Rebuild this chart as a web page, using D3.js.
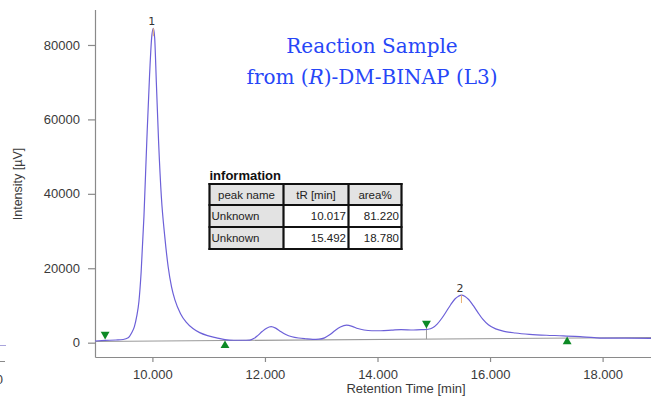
<!DOCTYPE html>
<html>
<head>
<meta charset="utf-8">
<script src="https://cdn.jsdelivr.net/npm/d3@7"></script>
<style>
  html, body { margin: 0; padding: 0; background: #fff; }
  svg { display: block; }
</style>
</head>
<body>
<svg id="chart" width="651" height="398"></svg>
<script>
// Chromatogram trace: retention time (min) and detector intensity (µV)
const traceTime = [
  8.98, 9.16, 9.35, 9.48, 9.57, 9.63, 9.68, 9.72, 9.76, 9.80, 9.85, 9.90, 9.95, 9.99, 10.017,
  10.04, 10.07, 10.11, 10.16, 10.22, 10.28, 10.34, 10.40, 10.50, 10.60, 10.72, 10.84, 10.98,
  11.14, 11.29, 11.45, 11.60, 11.73, 11.80, 11.87, 11.95, 12.03, 12.11, 12.19, 12.27, 12.37,
  12.48, 12.60, 12.72, 12.85, 12.96, 13.06, 13.15, 13.24, 13.34, 13.45, 13.55, 13.65, 13.76,
  13.90, 14.06, 14.25, 14.42, 14.64, 14.80, 14.90, 14.98, 15.06, 15.14, 15.22, 15.30, 15.38,
  15.44, 15.492, 15.55, 15.62, 15.70, 15.78, 15.87, 15.97, 16.10, 16.25, 16.45, 16.70, 17.00,
  17.30, 17.60, 17.85, 18.10, 18.40, 18.86
];
const traceIntensity = [
  450, 600, 720, 850, 1300, 2600, 4300, 7000, 11000, 19000, 34000, 54000, 72000, 82500, 84500,
  82000, 70000, 54000, 39000, 28500, 20400, 15000, 11500, 7800, 5500, 3800, 2700, 1900,
  1300, 800, 650, 650, 700, 1100, 1900, 3000, 3900, 4300, 3900, 3100, 2200,
  1600, 1250, 1050, 900, 950, 1300, 2100, 3200, 4200, 4700, 4400, 3800, 3400,
  3200, 3200, 3350, 3500, 3400, 3500, 3600, 4000, 5000, 6500, 8300, 10200, 11800,
  12500, 12800, 12500, 11600, 10000, 8200, 6300, 4800, 3700, 3050, 2600, 2250, 2000,
  1850, 1600, 1350, 1200, 1200, 1150
];

// Integration baseline drawn under the trace
const baselineTime = [8.98, 18.86];
const baselineIntensity = [320, 1400];

// Integration start / end markers
const markerTime = [9.16, 11.29, 14.87, 17.37];
const markerIntensity = [1260, 190, 4220, 1260];
const markerDirection = ["down", "up", "down", "up"];

// Detected peaks
const peakNumber = ["1", "2"];
const peakName = ["Unknown", "Unknown"];
const peakTime = [10.017, 15.492];
const peakHeight = [84500, 12800];
const peakArea = [81.220, 18.780];

// Table headings and axis ticks
const tableHeader = ["peak name", "tR [min]", "area%"];
const xTicks = [10, 12, 14, 16, 18];
const yTicks = [0, 20000, 40000, 60000, 80000];

const svg = d3.select("#chart");
const axisColor = "#8a8a8a";
const textColor = "#3a3a3a";
const tickFont = "Liberation Sans, Arial, sans-serif";

const x = d3.scaleLinear().domain([8.98, 18.86]).range([95, 651]);
const y = d3.scaleLinear().domain([-3850, 89400]).range([357, 10]);

// Fragments of the neighbouring panel at the left edge
svg.append("line").attr("x1", 0).attr("x2", 6).attr("y1", 345.5).attr("y2", 345.5)
  .attr("stroke", "#a9a4dc").attr("stroke-width", 1);
svg.append("line").attr("x1", 0).attr("x2", 5).attr("y1", 361.5).attr("y2", 361.5)
  .attr("stroke", axisColor).attr("stroke-width", 1);
svg.append("text").attr("x", 3).attr("y", 384).attr("text-anchor", "end")
  .attr("font-family", tickFont).attr("font-size", 13).attr("fill", textColor).text("0");

// Axes
const yAxis = d3.axisLeft(y).tickValues(yTicks).tickSize(7).tickSizeOuter(0).tickPadding(8)
  .tickFormat(d3.format("d"));
const xAxis = d3.axisBottom(x).tickValues(xTicks).tickSize(5).tickSizeOuter(0).tickPadding(8)
  .tickFormat(d3.format(".3f"));

const gy = svg.append("g").attr("transform", "translate(95,0)").call(yAxis);
const gx = svg.append("g").attr("transform", "translate(0,357)").call(xAxis);
[gx, gy].forEach(g => {
  g.select(".domain").attr("stroke", axisColor).attr("stroke-width", 1.2);
  g.selectAll(".tick line").attr("stroke", axisColor).attr("stroke-width", 1.2);
  g.selectAll(".tick text").attr("font-family", tickFont).attr("font-size", 13)
    .attr("fill", textColor);
});
gy.select(".domain").attr("d", `M0.5,${y.range()[1]}V${y.range()[0] + 0.5}`);

svg.append("text")
  .attr("x", 406).attr("y", 392.5).attr("text-anchor", "middle")
  .attr("font-family", tickFont).attr("font-size", 13).attr("fill", textColor)
  .text("Retention Time [min]");
svg.append("text")
  .attr("transform", "translate(22,184) rotate(-90)").attr("text-anchor", "middle")
  .attr("font-family", tickFont).attr("font-size", 12.5).attr("fill", textColor)
  .text("Intensity [µV]");

// Integration baseline
const baseLine = d3.line().x((d, i) => x(baselineTime[i])).y(d => y(d));
svg.append("path").datum(baselineIntensity)
  .attr("d", baseLine).attr("fill", "none").attr("stroke", "#9a9a9a").attr("stroke-width", 1.1);

// Drop line at the start of peak 2
const baseAt = t => baselineIntensity[0] + (baselineIntensity[1] - baselineIntensity[0]) *
  (t - baselineTime[0]) / (baselineTime[1] - baselineTime[0]);
svg.append("line")
  .attr("x1", x(markerTime[2])).attr("x2", x(markerTime[2]))
  .attr("y1", y(markerIntensity[2])).attr("y2", y(baseAt(markerTime[2])))
  .attr("stroke", "#9a9a9a").attr("stroke-width", 1);

// Chromatogram trace
const trace = d3.line()
  .x((d, i) => x(traceTime[i]))
  .y(d => y(d))
  .curve(d3.curveMonotoneX);
svg.append("path").datum(traceIntensity)
  .attr("d", trace).attr("fill", "none").attr("stroke", "#6c60d8").attr("stroke-width", 1.2);

// Apex ticks and peak numbers
peakTime.forEach((t, i) => {
  svg.append("line")
    .attr("x1", x(t)).attr("x2", x(t))
    .attr("y1", y(peakHeight[i])).attr("y2", y(peakHeight[i]) + 8)
    .attr("stroke", "#e8b070").attr("stroke-width", 1);
  svg.append("text")
    .attr("x", x(t) - 1.5).attr("y", y(peakHeight[i]) - 3.5)
    .attr("text-anchor", "middle")
    .attr("font-family", "DejaVu Sans, sans-serif").attr("font-size", 11)
    .attr("fill", "#333").text(peakNumber[i]);
});

// Start / end markers
const tri = d3.symbol().type(d3.symbolTriangle).size(34);
markerTime.forEach((t, i) => {
  const down = markerDirection[i] === "down";
  const tipY = y(markerIntensity[i]);
  const cy = down ? tipY - 3.6 : tipY + 3.6;
  svg.append("path")
    .attr("d", tri())
    .attr("transform", `translate(${x(t)},${cy}) rotate(${down ? 180 : 0})`)
    .attr("fill", "#0d8a25");
});

// Title
const title = svg.append("g").attr("font-family", "DejaVu Serif, serif")
  .attr("font-size", 20).attr("fill", "#2646f7").attr("text-anchor", "middle");
title.append("text").attr("x", 372).attr("y", 52.5).text("Reaction Sample");
const line2 = title.append("text").attr("x", 372).attr("y", 84);
line2.append("tspan").text("from (");
line2.append("tspan").attr("font-style", "italic").text("R");
line2.append("tspan").text(")-DM-BINAP (L3)");

// Peak information table
const tbl = svg.append("g").attr("font-family", tickFont);
tbl.append("text").attr("x", 209.5).attr("y", 180)
  .attr("font-size", 13).attr("font-weight", "bold").attr("fill", "#111").text("information");

const colX = [209.5, 283.5, 348.5, 401.5];
const rowY = [184, 205, 227, 249];
const rows = [tableHeader].concat(peakName.map((n, i) => [n, peakTime[i].toFixed(3), peakArea[i].toFixed(3)]));
rows.forEach((r, ri) => {
  r.forEach((cell, ci) => {
    const shaded = ri === 0 || ci === 0;
    tbl.append("rect")
      .attr("x", colX[ci]).attr("y", rowY[ri])
      .attr("width", colX[ci + 1] - colX[ci]).attr("height", rowY[ri + 1] - rowY[ri])
      .attr("fill", shaded ? "#e3e3e3" : "#ffffff");
    let tx, anchor;
    if (ri === 0) { tx = (colX[ci] + colX[ci + 1]) / 2; anchor = "middle"; }
    else if (ci === 0) { tx = colX[ci] + 2; anchor = "start"; }
    else { tx = colX[ci + 1] - 2.5; anchor = "end"; }
    tbl.append("text").attr("x", tx).attr("y", (rowY[ri] + rowY[ri + 1]) / 2 + 4.2)
      .attr("text-anchor", anchor).attr("font-size", 11.5).attr("fill", "#222").text(cell);
  });
});
colX.forEach(cx => tbl.append("line").attr("x1", cx).attr("x2", cx)
  .attr("y1", rowY[0] - 1).attr("y2", rowY[rowY.length - 1] + 1)
  .attr("stroke", "#111").attr("stroke-width", 2.2));
rowY.forEach(ry => tbl.append("line").attr("x1", colX[0] - 1).attr("x2", colX[colX.length - 1] + 1)
  .attr("y1", ry).attr("y2", ry)
  .attr("stroke", "#111").attr("stroke-width", 2.2));
</script>
</body>
</html>
